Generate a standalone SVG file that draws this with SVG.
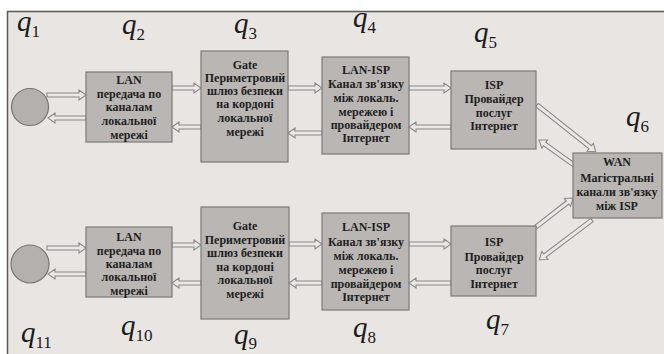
<svg xmlns="http://www.w3.org/2000/svg" width="664" height="354" viewBox="0 0 664 354">
<defs>
<style>
.bg{fill:#e8e5e3}
.frame{fill:none;stroke:#5a5856;stroke-width:1.5}
.box{fill:#b9b6b4;stroke:#7c7a78;stroke-width:1.2}
.circ{fill:#b3b0ae;stroke:#777573;stroke-width:1.2}
.t{font-family:"Liberation Serif","DejaVu Serif",serif;font-weight:bold;font-size:12px;fill:#1e1e1e;text-anchor:middle}
.q{font-family:"Liberation Serif","DejaVu Serif",serif;font-style:italic;font-size:29px;fill:#1a1a1a}
.sub{font-style:normal;font-size:17px}
.arr{fill:#ebe9e7;stroke:#8a8886;stroke-width:1.1}
</style>
</defs>
<rect x="0" y="0" width="664" height="354" fill="#ffffff"/>
<rect class="bg" x="7" y="11" width="657" height="343"/>
<path class="frame" d="M7.5 354 V11.5 H664"/>

<g id="labels">
<text class="q" x="17" y="31">q<tspan class="sub" dy="6">1</tspan></text>
<text class="q" x="122" y="34">q<tspan class="sub" dy="6">2</tspan></text>
<text class="q" x="234" y="33">q<tspan class="sub" dy="6">3</tspan></text>
<text class="q" x="353" y="27">q<tspan class="sub" dy="6">4</tspan></text>
<text class="q" x="474" y="42">q<tspan class="sub" dy="6">5</tspan></text>
<text class="q" x="626" y="126">q<tspan class="sub" dy="6">6</tspan></text>
<text class="q" x="486" y="329">q<tspan class="sub" dy="6">7</tspan></text>
<text class="q" x="353" y="337">q<tspan class="sub" dy="6">8</tspan></text>
<text class="q" x="234" y="344">q<tspan class="sub" dy="5">9</tspan></text>
<text class="q" x="121" y="335">q<tspan class="sub" dy="6">10</tspan></text>
<text class="q" x="21" y="342">q<tspan class="sub" dy="6">11</tspan></text>
</g>

<g id="connectors">
<polygon class="arr" transform="translate(47,95)" points="0,-2 32,-2 32,-5 39,0 32,5 32,2 0,2"/>
<polygon class="arr" transform="translate(86,118) rotate(180)" points="0,-2 31,-2 31,-5 38,0 31,5 31,2 0,2"/>
<polygon class="arr" transform="translate(172,88)" points="0,-2 22,-2 22,-5 29,0 22,5 22,2 0,2"/>
<polygon class="arr" transform="translate(201,127) rotate(180)" points="0,-2 22,-2 22,-5 29,0 22,5 22,2 0,2"/>
<polygon class="arr" transform="translate(288,88)" points="0,-2 27,-2 27,-5 34,0 27,5 27,2 0,2"/>
<polygon class="arr" transform="translate(322,133) rotate(180)" points="0,-2 27,-2 27,-5 34,0 27,5 27,2 0,2"/>
<polygon class="arr" transform="translate(409,88)" points="0,-2 35,-2 35,-5 42,0 35,5 35,2 0,2"/>
<polygon class="arr" transform="translate(451,127) rotate(180)" points="0,-2 35,-2 35,-5 42,0 35,5 35,2 0,2"/>
<polygon class="arr" transform="translate(537,105) rotate(38.5)" points="0,-2 68,-2 68,-5 75,0 68,5 68,2 0,2"/>
<polygon class="arr" transform="translate(574,165) rotate(215.5)" points="0,-2 36,-2 36,-5 43,0 36,5 36,2 0,2"/>
<polygon class="arr" transform="translate(536,227) rotate(-38)" points="0,-2 40,-2 40,-5 47,0 40,5 40,2 0,2"/>
<polygon class="arr" transform="translate(592,220) rotate(143)" points="0,-2 59,-2 59,-5 66,0 59,5 59,2 0,2"/>
<polygon class="arr" transform="translate(47,248)" points="0,-2 32,-2 32,-5 39,0 32,5 32,2 0,2"/>
<polygon class="arr" transform="translate(86,274) rotate(180)" points="0,-2 31,-2 31,-5 38,0 31,5 31,2 0,2"/>
<polygon class="arr" transform="translate(172,245)" points="0,-2 22,-2 22,-5 29,0 22,5 22,2 0,2"/>
<polygon class="arr" transform="translate(201,283) rotate(180)" points="0,-2 22,-2 22,-5 29,0 22,5 22,2 0,2"/>
<polygon class="arr" transform="translate(289,244)" points="0,-2 26,-2 26,-5 33,0 26,5 26,2 0,2"/>
<polygon class="arr" transform="translate(322,283) rotate(180)" points="0,-2 26,-2 26,-5 33,0 26,5 26,2 0,2"/>
<polygon class="arr" transform="translate(409,244)" points="0,-2 35,-2 35,-5 42,0 35,5 35,2 0,2"/>
<polygon class="arr" transform="translate(451,283) rotate(180)" points="0,-2 35,-2 35,-5 42,0 35,5 35,2 0,2"/>
</g>

<g id="q1"><circle class="circ" cx="30" cy="107" r="18.5"/></g>
<g id="q2">
<rect class="box" x="86" y="72" width="86" height="70"/>
<text class="t" x="129" y="84">LAN</text>
<text class="t" x="129" y="98">передача по</text>
<text class="t" x="129" y="111">каналам</text>
<text class="t" x="129" y="125">локальної</text>
<text class="t" x="129" y="139">мережі</text>
</g>
<g id="q3">
<rect class="box" x="201" y="51" width="87" height="111"/>
<text class="t" x="245" y="69">Gate</text>
<text class="t" x="245" y="82">Периметровий</text>
<text class="t" x="245" y="95">шлюз безпеки</text>
<text class="t" x="245" y="108">на кордоні</text>
<text class="t" x="245" y="122">локальної</text>
<text class="t" x="245" y="136">мережі</text>
</g>
<g id="q4">
<rect class="box" x="322" y="57" width="87" height="97"/>
<text class="t" x="366" y="74">LAN-ISP</text>
<text class="t" x="366" y="88">Канал зв'язку</text>
<text class="t" x="366" y="102">між локаль.</text>
<text class="t" x="366" y="116">мережею і</text>
<text class="t" x="366" y="129">провайдером</text>
<text class="t" x="366" y="142">Інтернет</text>
</g>
<g id="q5">
<rect class="box" x="451" y="71" width="85" height="78"/>
<text class="t" x="494" y="89">ISP</text>
<text class="t" x="494" y="103">Провайдер</text>
<text class="t" x="494" y="117">послуг</text>
<text class="t" x="494" y="130">Інтернет</text>
</g>
<g id="q6">
<rect class="box" x="573" y="153" width="89" height="65"/>
<text class="t" x="617" y="166">WAN</text>
<text class="t" x="617" y="182">Магістральні</text>
<text class="t" x="617" y="196">канали зв'язку</text>
<text class="t" x="617" y="210">між ISP</text>
</g>
<g id="q7">
<rect class="box" x="451" y="226" width="85" height="70"/>
<text class="t" x="494" y="246">ISP</text>
<text class="t" x="494" y="261">Провайдер</text>
<text class="t" x="494" y="274">послуг</text>
<text class="t" x="494" y="288">Інтернет</text>
</g>
<g id="q8">
<rect class="box" x="322" y="213" width="87" height="97"/>
<text class="t" x="366" y="231">LAN-ISP</text>
<text class="t" x="366" y="246">Канал зв'язку</text>
<text class="t" x="366" y="260">між локаль.</text>
<text class="t" x="366" y="274">мережею і</text>
<text class="t" x="366" y="288">провайдером</text>
<text class="t" x="366" y="301">Інтернет</text>
</g>
<g id="q9">
<rect class="box" x="201" y="207" width="88" height="112"/>
<text class="t" x="245" y="230">Gate</text>
<text class="t" x="245" y="244">Периметровий</text>
<text class="t" x="245" y="257">шлюз безпеки</text>
<text class="t" x="245" y="271">на кордоні</text>
<text class="t" x="245" y="284">локальної</text>
<text class="t" x="245" y="298">мережі</text>
</g>
<g id="q10">
<rect class="box" x="86" y="227" width="86" height="70"/>
<text class="t" x="129" y="241">LAN</text>
<text class="t" x="129" y="255">передача по</text>
<text class="t" x="129" y="268">каналам</text>
<text class="t" x="129" y="281">локальної</text>
<text class="t" x="129" y="295">мережі</text>
</g>
<g id="q11"><circle class="circ" cx="30" cy="264" r="19"/></g>
</svg>
